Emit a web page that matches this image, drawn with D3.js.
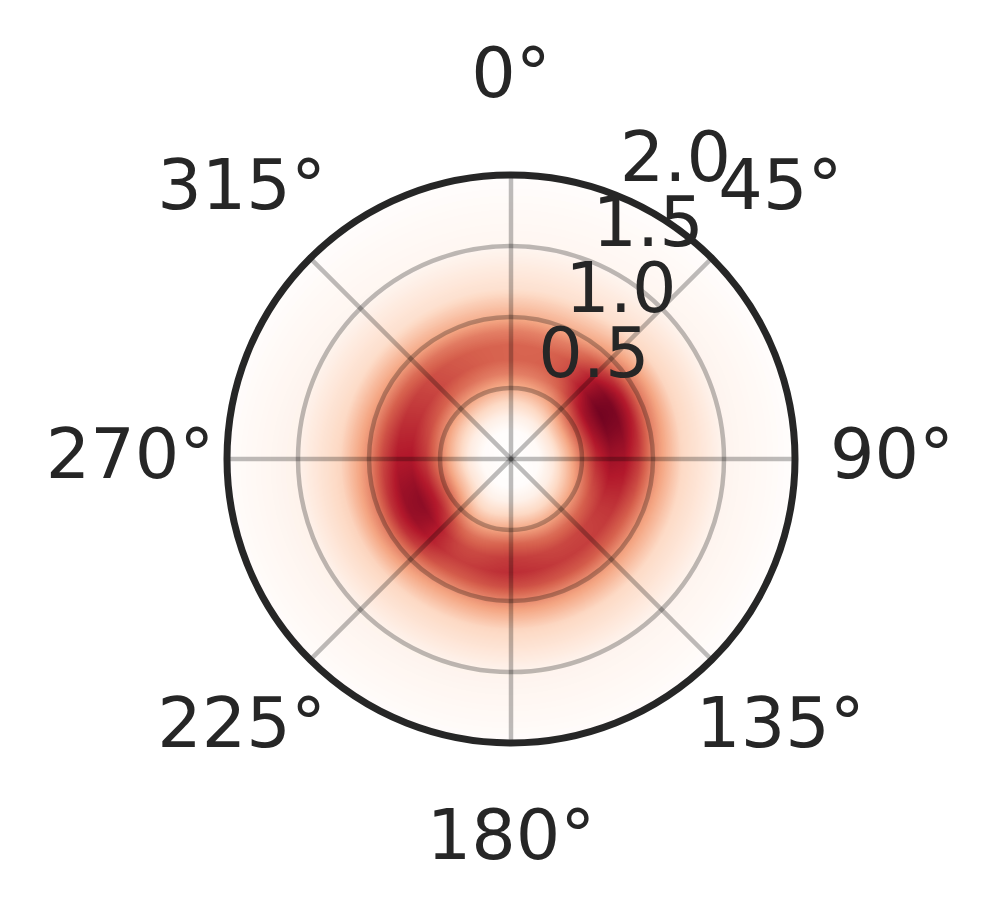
<!DOCTYPE html>
<html><head><meta charset="utf-8">
<script src="https://cdn.jsdelivr.net/npm/d3@7"></script>
<style>body{margin:0;background:#fff}</style>
</head><body>
<svg id="chart" width="999" height="919"></svg>
<script>
// ---- data ----
const thetaDeg = [0, 30, 60, 90, 120, 150, 180, 210, 240, 270, 300, 330];
const radii = [0, 0.2, 0.3, 0.4, 0.5, 0.6, 0.7, 0.8, 0.9, 1.0, 1.2, 1.5, 2.0];
const intensity = [
  [0, 0.015, 0.08, 0.20, 0.36, 0.51, 0.59, 0.59, 0.51, 0.37, 0.17, 0.05, 0.01],
  [0, 0.020, 0.10, 0.25, 0.42, 0.57, 0.645, 0.63, 0.53, 0.38, 0.17, 0.05, 0.01],
  [0, 0.030, 0.15, 0.37, 0.62, 0.84, 0.96, 0.94, 0.78, 0.54, 0.22, 0.06, 0.01],
  [0, 0.025, 0.13, 0.33, 0.55, 0.75, 0.85, 0.83, 0.70, 0.49, 0.21, 0.06, 0.01],
  [0, 0.020, 0.10, 0.26, 0.44, 0.61, 0.71, 0.71, 0.60, 0.44, 0.20, 0.06, 0.01],
  [0, 0.015, 0.08, 0.21, 0.39, 0.56, 0.67, 0.70, 0.62, 0.46, 0.21, 0.06, 0.015],
  [0, 0.015, 0.08, 0.22, 0.40, 0.59, 0.70, 0.74, 0.65, 0.49, 0.22, 0.065, 0.015],
  [0, 0.015, 0.08, 0.21, 0.39, 0.56, 0.67, 0.70, 0.62, 0.46, 0.21, 0.065, 0.015],
  [0, 0.030, 0.14, 0.34, 0.58, 0.78, 0.89, 0.87, 0.74, 0.53, 0.23, 0.07, 0.015],
  [0, 0.025, 0.12, 0.31, 0.52, 0.71, 0.81, 0.80, 0.67, 0.48, 0.22, 0.07, 0.015],
  [0, 0.020, 0.10, 0.26, 0.45, 0.62, 0.71, 0.70, 0.59, 0.43, 0.19, 0.06, 0.01],
  [0, 0.015, 0.09, 0.23, 0.40, 0.55, 0.63, 0.62, 0.53, 0.38, 0.17, 0.05, 0.01]
];
const colorStops = [0, 0.2, 0.4, 0.6, 0.8, 1.0];
const colorValues = ["#ffffff", "#fddbc7", "#f4a582", "#d6604d", "#b2182b", "#67001f"];
const rTicks = [0.5, 1.0, 1.5, 2.0];
const rTickLabels = ["0.5", "1.0", "1.5", "2.0"];
const thetaTicks = [0, 45, 90, 135, 180, 225, 270, 315];
const thetaTickLabels = ["0°", "45°", "90°", "135°", "180°", "225°", "270°", "315°"];

// ---- layout ----
const cx = 511, cy = 459, R = 284;
const rMax = 2.0;
const rScale = d3.scaleLinear().domain([0, rMax]).range([0, R]);
const aScale = d3.scaleLinear().domain([0, 360]).range([0, 2 * Math.PI]);
const color = d3.scaleLinear().domain(colorStops).range(colorValues).interpolate(d3.interpolateRgb).clamp(true);
const textColor = "#262626";
const font = "DejaVu Sans, Liberation Sans, sans-serif";

const svg = d3.select("#chart");
const g = svg.append("g").attr("transform", `translate(${cx},${cy})`);

// ---- heatmap raster ----
const rowScales = intensity.map(row => d3.scaleLinear().domain(radii).range(row).clamp(true));
const n = thetaDeg.length, step = 360 / n;
const size = 2 * R;
const canvas = document.createElement("canvas");
canvas.width = size; canvas.height = size;
const ctx = canvas.getContext("2d");
const img = ctx.createImageData(size, size);
const lut = d3.range(256).map(i => d3.rgb(color(i / 255)));
for (let py = 0; py < size; py++) {
  for (let px = 0; px < size; px++) {
    const dx = px + 0.5 - R, dy = py + 0.5 - R;
    const d = Math.sqrt(dx * dx + dy * dy);
    if (d > R + 1) continue;
    const r = rScale.invert(d);
    let ang = Math.atan2(dx, -dy) * 180 / Math.PI;
    if (ang < 0) ang += 360;
    const pos = ang / step;
    const i1 = Math.floor(pos) % n, f = pos - Math.floor(pos);
    const i0 = (i1 - 1 + n) % n, i2 = (i1 + 1) % n, i3 = (i1 + 2) % n;
    const p0 = rowScales[i0](r), p1 = rowScales[i1](r), p2 = rowScales[i2](r), p3 = rowScales[i3](r);
    let v = 0.5 * (2 * p1 + (-p0 + p2) * f + (2 * p0 - 5 * p1 + 4 * p2 - p3) * f * f + (-p0 + 3 * p1 - 3 * p2 + p3) * f * f * f);
    v = Math.max(0, Math.min(1, v));
    const c = lut[Math.round(v * 255)];
    const k = (py * size + px) * 4;
    img.data[k] = c.r; img.data[k + 1] = c.g; img.data[k + 2] = c.b; img.data[k + 3] = 255;
  }
}
ctx.putImageData(img, 0, 0);

svg.append("defs").append("clipPath").attr("id", "polarClip")
  .append("circle").attr("r", R);
g.append("image")
  .attr("x", -R).attr("y", -R).attr("width", size).attr("height", size)
  .attr("href", canvas.toDataURL())
  .attr("clip-path", "url(#polarClip)");

// ---- grid ----
const grid = g.append("g").attr("stroke", "#000").attr("stroke-opacity", 0.26).attr("stroke-width", 4.5).attr("fill", "none");
grid.selectAll("circle").data(rTicks.filter(t => t < rMax)).join("circle")
  .attr("r", d => rScale(d));
grid.selectAll("line").data(thetaTicks).join("line")
  .attr("x1", 0).attr("y1", 0)
  .attr("x2", d => rScale(rMax) * Math.sin(aScale(d)))
  .attr("y2", d => -rScale(rMax) * Math.cos(aScale(d)));

// ---- spine ----
g.append("circle").attr("r", R).attr("fill", "none").attr("stroke", textColor).attr("stroke-width", 7);

// ---- radial labels ----
const rLabelAngle = aScale(22.5);
g.append("g").selectAll("text").data(rTicks).join("text")
  .attr("x", d => rScale(d) * Math.sin(rLabelAngle))
  .attr("y", d => -rScale(d) * Math.cos(rLabelAngle) - 16)
  .attr("text-anchor", "start")
  .attr("font-family", font).attr("font-size", 70).attr("fill", textColor)
  .text((d, i) => rTickLabels[i]);

// ---- angular labels ----
const labR = 381;
g.append("g").selectAll("text").data(thetaTicks).join("text")
  .attr("x", d => labR * Math.sin(aScale(d)))
  .attr("y", d => -labR * Math.cos(aScale(d)) + 19)
  .attr("text-anchor", "middle")
  .attr("font-family", font).attr("font-size", 70).attr("fill", textColor)
  .text((d, i) => thetaTickLabels[i]);
</script>
</body></html>
